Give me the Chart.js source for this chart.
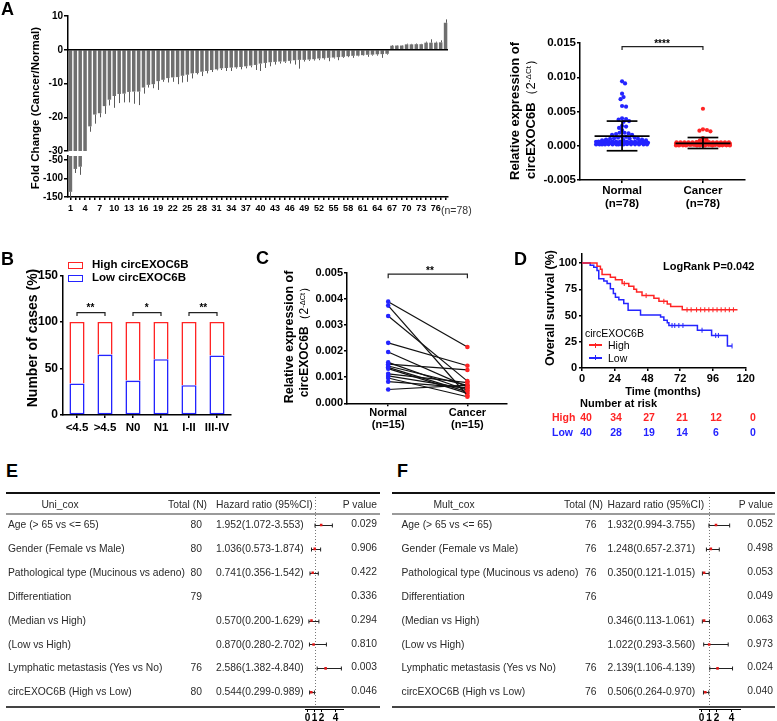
<!DOCTYPE html>
<html><head><meta charset="utf-8">
<script src="https://cdn.jsdelivr.net/npm/chart.js@4.4.0/dist/chart.umd.min.js"></script>
<style>
html,body{margin:0;padding:0;background:#fff}
#root{position:relative;width:777px;height:721px;overflow:hidden;background:#fff;font-family:"Liberation Sans",Arial,Helvetica,sans-serif;color:#111}
.box{position:absolute}
.t{position:absolute;white-space:nowrap;line-height:1}
.ln{position:absolute}
sup{font-size:0.62em;vertical-align:0.45em;line-height:0}
</style></head><body><div id="root"></div>
<script>
// ================= DATA =================
// Panel A (left): fold change per case, 78 cases
const fcLabels = Array.from({length: 78}, (_, i) => String(i + 1));
const foldChange = [-136,-74,-68,-30.5,-22.7,-19.2,-18.8,-16.7,-14.8,-13.7,-13.1,-13.0,-12.5,-12.4,-12.4,-11.2,-10.4,-10.2,-9.3,-8.9,
  -8.4,-8.2,-8.1,-7.7,-7.4,-7.0,-6.9,-6.5,-6.3,-6.0,-5.8,-5.5,-5.4,-5.3,-5.2,-5.1,-4.9,-4.7,-4.5,-4.1,
  -3.9,-3.7,-3.6,-3.5,-3.5,-3.3,-3.1,-3.0,-3.0,-2.9,-2.8,-2.6,-2.5,-2.4,-2.3,-2.2,-2.1,-1.9,-1.8,-1.75,
  -1.6,-1.5,-1.45,-1.35,-1.3,-1.2,
  1.2,1.25,1.25,1.6,1.6,1.65,1.65,2.1,2.1,2.1,2.2,8.0];
const foldErr = [14,11,22,0,1.6,2.7,1.2,2.3,1.7,3.5,2.7,2.6,3.1,3.6,4.0,1.8,0.8,1.2,2.6,0.6,
  1.3,1.3,2.1,2.0,2.1,1.5,0.4,1.3,0.7,0.6,0.3,0.5,0.9,1.0,0.4,0.7,0.6,0.5,1.5,2.2,
  1.5,1.2,0.8,0.6,0.4,0.8,1.3,2.6,0.5,0.4,0.4,0.5,0.4,1.0,0.3,0.9,0.3,0.3,0.6,0.2,
  0.15,0.6,0.3,0.4,1.1,0.25,
  0.2,0.1,0.1,0.2,0.15,0.2,0.1,0.3,1.0,0.3,0.6,1.0];
const fcUpperTicks = [-30, -20, -10, 0, 10];
const fcLowerTicks = [-150, -100, -50];

// Panel A (right): relative expression
const aGroups = [['Normal', '(n=78)'], ['Cancer', '(n=78)']];
const normalExpr = [0.0094,0.0091,0.0076,0.0071,0.0068,0.0058,0.0057,
  0.0040,0.0039,0.0038,0.0036,0.0035,
  0.0029,0.0028,0.0026,0.0023,
  0.0019,0.0019,0.0018,0.0017,0.0016,0.0016,
  0.0013,0.0013,0.0012,0.0012,0.0011,0.0011,0.0010,0.0010,0.0009,0.0009,
  0.00082,0.0008,0.00078,
  0.00062,0.0006,0.00061,0.00059,0.0006,0.00058,0.00061,0.0006,0.00062,0.00059,0.0006,0.00058,
  0.00041,0.0004,0.00042,0.00039,0.0004,0.00038,0.00041,0.0004,0.00042,0.00039,0.0004,0.0004,0.00041,0.00038,0.0004,
  0.00021,0.0002,0.00022,0.00019,0.0002,0.00018,0.00021,0.0002,0.00022,0.00019,0.0002,0.0002,0.00021,0.00018,0.0002,0.00019];
const cancerExpr = [0.0054,0.0024,0.0023,0.0022,0.0021,0.0011,0.0009,0.0008,
  0.0005,0.00052,0.00048,0.0005,0.00051,0.00049,0.0005,0.00052,0.00048,0.0005,0.00051,0.00049,0.0005,0.0005,0.00052,0.00048,
  0.0003,0.00032,0.00028,0.0003,0.00031,0.00029,0.0003,0.00032,0.00028,0.0003,0.00031,0.00029,0.0003,0.0003,0.00032,0.00028,0.0003,0.00031,0.00029,0.0003,0.0003,0.0003,
  0.00015,0.00016,0.00014,0.00015,0.00015,0.00016,0.00014,0.00015,0.00015,0.00016,0.00014,0.00015,0.00015,0.00016,0.00014,0.00015,0.00015,0.00016,0.00014,0.00015,
  0.00005,0.00006,0.00004,0.00005,0.00005,0.00006,0.00004,0.00005,0.00005,0.00006,0.00004,0.00005];
const aMean = [0.0014, 0.00034];
const aSdLow = [-0.00073, -0.0004];
const aSdHigh = [0.0036, 0.0012];
const aTicks = [-0.005, 0, 0.005, 0.010, 0.015];

// Panel B: stacked percentages
const bCats = ['<4.5', '>4.5', 'N0', 'N1', 'I-II', 'III-IV'];
const bLow = [34, 65, 37, 60, 32, 64];
const bHigh = [66, 35, 63, 40, 68, 36];
const bSig = ['**', '*', '**'];
const bTicks = [0, 50, 100, 150];

// Panel C: paired samples
const cGroups = [['Normal', '(n=15)'], ['Cancer', '(n=15)']];
const cNormal = [0.0039,0.00375,0.00335,0.00232,0.00197,0.00157,0.0015,0.00143,0.00138,0.00133,0.00113,0.00105,0.00097,0.00083,0.00053];
const cCancer = [0.00216,0.0003,0.00085,0.00144,0.00063,0.0005,0.00128,0.00069,0.00044,0.00038,0.00079,0.00056,0.00025,0.0006,0.0007];
const cTicks = [0, 0.001, 0.002, 0.003, 0.004, 0.005];

// Panel D: Kaplan-Meier
const kmTicks = [0, 24, 48, 72, 96, 120];
const kmYTicks = [0, 25, 50, 75, 100];
const highT = [0, 11, 13.5, 14.7, 20.8, 24.5, 29.4, 34.3, 38, 40, 44, 52.7, 56.4, 62.5, 65, 73.5, 114];
const highS = [100, 97, 94, 89, 86.5, 84, 80.5, 78, 75, 72.5, 69, 66.5, 63.5, 61, 58.5, 55.5, 55.5];
const lowT = [0, 6, 8.6, 11, 12.3, 16, 18.4, 20.8, 23, 24.5, 27, 30.6, 33.8, 42.9, 57.6, 60, 62.5, 63.7, 84.6, 95, 106.6, 110];
const lowS = [100, 98, 96, 93, 85, 83, 80.5, 75.5, 71, 67.5, 65, 61.5, 55, 50.5, 48.5, 45.5, 43, 40.5, 36, 31, 21, 21];
const highCens = [31, 47, 60, 77, 80, 84, 87, 90, 93, 96, 99, 102, 105, 108, 111];
const lowCens = [66, 68, 71, 74, 88, 98, 100, 110];
const riskHigh = [40, 34, 27, 21, 12, 0];
const riskLow = [40, 28, 19, 14, 6, 0];

// Panels E/F: Cox regression
const coxLabels = ['Age (> 65 vs <= 65)', 'Gender (Female vs Male)', 'Pathological type (Mucinous vs adeno)',
  'Differentiation', '(Median vs High)', '(Low vs High)', 'Lymphatic metastasis (Yes vs No)', 'circEXOC6B (High vs Low)'];
const uniN = ['80', '80', '80', '79', '', '', '76', '80'];
const uniHR = [1.952, 1.036, 0.741, null, 0.570, 0.870, 2.586, 0.544];
const uniLo = [1.072, 0.573, 0.356, null, 0.200, 0.280, 1.382, 0.299];
const uniHi = [3.553, 1.874, 1.542, null, 1.629, 2.702, 4.840, 0.989];
const uniP = ['0.029', '0.906', '0.422', '0.336', '0.294', '0.810', '0.003', '0.046'];
const mulN = ['76', '76', '76', '76', '', '', '76', '76'];
const mulHR = [1.932, 1.248, 0.350, null, 0.346, 1.022, 2.139, 0.506];
const mulLo = [0.994, 0.657, 0.121, null, 0.113, 0.293, 1.106, 0.264];
const mulHi = [3.755, 2.371, 1.015, null, 1.061, 3.560, 4.139, 0.970];
const mulP = ['0.052', '0.498', '0.053', '0.049', '0.063', '0.973', '0.024', '0.040'];
const forestTicks = [0, 1, 2, 4];

// ================= STYLE / HELPERS =================
const RED = '#ff2424', BLUE = '#2424ff';
Chart.defaults.font.family = '"Liberation Sans", Arial, Helvetica, sans-serif';
Chart.defaults.color = '#000';
Chart.defaults.plugins.legend.display = false;
Chart.defaults.plugins.tooltip.enabled = false;
Chart.defaults.animation = false;

const root = document.getElementById('root');

function mk(x, y, w, h, cfg) {
  const d = document.createElement('div');
  d.className = 'box';
  d.style.cssText = `left:${x}px;top:${y}px;width:${w}px;height:${h}px`;
  const c = document.createElement('canvas');
  c.width = w; c.height = h; c.style.width = w + 'px'; c.style.height = h + 'px';
  d.appendChild(c); root.appendChild(d);
  cfg.options = Object.assign({responsive: false, animation: false, devicePixelRatio: 1}, cfg.options || {});
  return new Chart(c, cfg);
}

function sc(type, o) {
  const s = {
    type,
    border: {display: true, color: '#000', width: o.bw || 1.5},
    grid: {display: true, drawOnChartArea: false, drawTicks: true, tickLength: o.tl == null ? 4 : o.tl,
           color: o.gc || '#000', lineWidth: o.bw || 1.5, offset: false},
    ticks: {color: '#000', font: {size: o.fs || 11, weight: 'bold', lineHeight: o.lh || 1.2},
            padding: o.pad == null ? 1 : o.pad, autoSkip: false, maxRotation: 0, minRotation: 0}
  };
  ['min', 'max', 'reverse', 'offset', 'stacked'].forEach(k => { if (o[k] !== undefined) s[k] = o[k]; });
  if (o.cb) s.ticks.callback = o.cb;
  if (o.ticksAt) s.afterBuildTicks = a => { a.ticks = o.ticksAt.map(v => ({value: v})); };
  if (o.w != null) s.afterFit = a => { a.width = o.w; };
  if (o.h != null) s.afterFit = a => { a.height = o.h; };
  return s;
}

function T(html, x, y, o = {}) {
  const d = document.createElement('div');
  d.className = 't';
  d.innerHTML = html;
  const a = o.a || 'l';
  let tr = `translate(${a === 'l' ? '0' : a === 'c' ? '-50%' : '-100%'},-50%)`;
  if (o.rot) tr = 'translate(-50%,-50%) rotate(-90deg)';
  d.style.cssText = `left:${x}px;top:${y}px;font-size:${o.fs || 11}px;font-weight:${o.b ? 'bold' : 'normal'};color:${o.c || '#000'};transform:${tr};`;
  root.appendChild(d);
  return d;
}
function L(x, y, w, h, color) {
  const d = document.createElement('div');
  d.className = 'ln';
  d.style.cssText = `left:${x}px;top:${y}px;width:${w}px;height:${h}px;background:${color}`;
  root.appendChild(d);
}

function line(ctx, x1, y1, x2, y2) { ctx.beginPath(); ctx.moveTo(x1, y1); ctx.lineTo(x2, y2); ctx.stroke(); }

function bracketPlugin(list) {
  return {id: 'br', afterDatasetsDraw(ch) {
    const {ctx, scales: {x, y}} = ch;
    ctx.save(); ctx.strokeStyle = '#222'; ctx.lineWidth = 1.2;
    list.forEach(b => {
      const X0 = x.getPixelForValue(b[0]), X1 = x.getPixelForValue(b[1]);
      const Y = y.getPixelForValue(b[2]), Yt = y.getPixelForValue(b[3]);
      ctx.beginPath(); ctx.moveTo(X0, Yt); ctx.lineTo(X0, Y); ctx.lineTo(X1, Y); ctx.lineTo(X1, Yt); ctx.stroke();
    });
    ctx.restore();
  }};
}

// ================= PANEL A (bars, broken axis) =================
const errPlugin = {id: 'err', afterDatasetsDraw(ch) {
  const ctx = ch.ctx, ys = ch.scales.y, ca = ch.chartArea, meta = ch.getDatasetMeta(0);
  ctx.save(); ctx.beginPath(); ctx.rect(ca.left, ca.top, ca.right - ca.left, ca.bottom - ca.top); ctx.clip();
  ctx.strokeStyle = '#5a5a5a'; ctx.lineWidth = 1;
  meta.data.forEach((el, i) => {
    const v = foldChange[i], e = foldErr[i];
    if (!e) return;
    const end = v + Math.sign(v) * e;
    const xx = Math.round(el.x) + 0.5;
    line(ctx, xx, ys.getPixelForValue(v), xx, ys.getPixelForValue(end));
  });
  ctx.restore();
}};
const zeroPlugin = {id: 'zero', afterDatasetsDraw(ch) {
  const {ctx, chartArea: ca, scales: {y}} = ch;
  const yy = y.getPixelForValue(0);
  ctx.save(); ctx.strokeStyle = '#000'; ctx.lineWidth = 1.5;
  line(ctx, ca.left, yy, ca.right, yy); ctx.restore();
}};
const barDs = () => ({data: foldChange, backgroundColor: '#6f6f6f', borderWidth: 0, barPercentage: 0.72, categoryPercentage: 1, clip: 0});

mk(0, 0, 480, 158, {type: 'bar', data: {labels: fcLabels, datasets: [barDs()]},
  options: {layout: {padding: {left: 0, top: 16, right: 32, bottom: 5}},
    scales: {x: {display: false, offset: true},
             y: sc('linear', {min: -30, max: 10, ticksAt: fcUpperTicks, fs: 10, w: 68, tl: 4, pad: 1})}},
  plugins: [errPlugin, zeroPlugin]});

mk(0, 149, 480, 73, {type: 'bar', data: {labels: fcLabels, datasets: [barDs()]},
  options: {layout: {padding: {left: 0, top: 7, right: 32, bottom: 0}},
    scales: {x: sc('category', {fs: 9, h: 25, tl: 3, pad: 3, offset: true,
                 cb: (v, i) => (i % 3 === 0 ? fcLabels[i] : '')}),
             y: sc('linear', {min: -150, max: -39, ticksAt: fcLowerTicks, fs: 10, w: 68, tl: 4, pad: 1})}},
  plugins: [errPlugin]});

T('A', 1, 9, {fs: 18, b: 1});
T('Fold Change (Cancer/Normal)', 36, 108, {fs: 11.5, b: 1, rot: 1});
T('(n=78)', 441, 210, {fs: 10.5, c: '#333'});

// ================= PANEL A (right, dot plot) =================
function swarm(vals, pxY, pxX, d, maxHalf) {
  const order = vals.map((v, i) => i).sort((a, b) => vals[b] - vals[a]);
  const placed = []; const off = new Array(vals.length).fill(0);
  order.forEach(i => {
    const yv = vals[i] * pxY; let best = 0, bestScore = -1;
    for (let k = 0; k <= maxHalf * 4; k++) {
      const dx = (k % 2 ? 1 : -1) * Math.ceil(k / 2) * 0.5;
      let mind = Infinity;
      placed.forEach(p => { const dd = Math.hypot(p.x - dx, p.y - yv); if (dd < mind) mind = dd; });
      if (mind >= d) { best = dx; bestScore = Infinity; break; }
      if (mind > bestScore) { bestScore = mind; best = dx; }
    }
    placed.push({x: best, y: yv}); off[i] = best / pxX;
  });
  return off;
}
const offN = swarm(normalExpr, 6850, 81, 3.6, 26);
const offC = swarm(cancerExpr, 6850, 81, 3.6, 27);

const msdPlugin = {id: 'msd', afterDatasetsDraw(ch) {
  const {ctx, scales: {x, y}} = ch;
  ctx.save(); ctx.strokeStyle = '#000'; ctx.lineWidth = 1.7;
  [0, 1].forEach(g => {
    const m = y.getPixelForValue(aMean[g]), lo = y.getPixelForValue(aSdLow[g]), hi = y.getPixelForValue(aSdHigh[g]);
    line(ctx, x.getPixelForValue(g - 0.34), m, x.getPixelForValue(g + 0.34), m);
    line(ctx, x.getPixelForValue(g), lo, x.getPixelForValue(g), hi);
    line(ctx, x.getPixelForValue(g - 0.19), lo, x.getPixelForValue(g + 0.19), lo);
    line(ctx, x.getPixelForValue(g - 0.19), hi, x.getPixelForValue(g + 0.19), hi);
  });
  ctx.restore();
}};

mk(470, 0, 300, 232, {type: 'scatter', data: {datasets: [
    {data: normalExpr.map((v, i) => ({x: offN[i], y: v})), pointBackgroundColor: BLUE, pointBorderWidth: 0, pointRadius: 2.1},
    {data: cancerExpr.map((v, i) => ({x: 1 + offC[i], y: v})), pointBackgroundColor: RED, pointBorderWidth: 0, pointRadius: 2.1}]},
  options: {layout: {padding: {left: 0, top: 43, right: 25, bottom: 0}},
    scales: {x: sc('linear', {min: -0.52, max: 1.52, ticksAt: [0, 1], cb: v => aGroups[Math.round(v)], fs: 11.5, h: 52, tl: 3, pad: 2, lh: 1.1}),
             y: sc('linear', {min: -0.005, max: 0.015, ticksAt: aTicks, cb: v => v.toFixed(3), fs: 11.5, w: 110, tl: 3, pad: 1})}},
  plugins: [msdPlugin, bracketPlugin([[0, 1, 0.01446, 0.01397]])]});

T('Relative expression of', 514, 111, {fs: 13, b: 1, rot: 1});
T('circEXOC6B<span style="font-weight:normal">（2<sup>-ΔCt</sup>）</span>', 530, 116, {fs: 13, b: 1, rot: 1});
T('****', 662, 44, {fs: 10, b: 1, a: 'c'});

// ================= PANEL B =================
mk(0, 258, 240, 182, {type: 'bar', data: {labels: bCats, datasets: [
    {data: bLow, backgroundColor: '#fff', borderColor: BLUE, borderWidth: 1.6, borderSkipped: false, barPercentage: 0.54, categoryPercentage: 1},
    {data: bHigh, backgroundColor: '#fff', borderColor: RED, borderWidth: 1.6, borderSkipped: 'start', barPercentage: 0.54, categoryPercentage: 1}]},
  options: {layout: {padding: {left: 0, top: 17.5, right: 9, bottom: 0}},
    scales: {x: sc('category', {fs: 11.5, h: 25, tl: 3, pad: 3, offset: true, stacked: true}),
             y: sc('linear', {min: 0, max: 150, ticksAt: bTicks, fs: 12, w: 63, tl: 3, pad: 2, stacked: true})}},
  plugins: [bracketPlugin([[0, 1, 110, 106.5], [2, 3, 110, 106.5], [4, 5, 110, 106.5]])]});

T('B', 1, 258.5, {fs: 18, b: 1});
const lgB = (top, color) => { const d = document.createElement('div'); d.className = 'ln';
  d.style.cssText = `left:68px;top:${top}px;width:15px;height:7px;border:1.5px solid ${color};box-sizing:border-box`; root.appendChild(d); };
lgB(261.5, RED); lgB(274.5, BLUE);
T('High circEXOC6B', 92, 265, {fs: 11.5, b: 1});
T('Low circEXOC6B', 92, 278, {fs: 11.5, b: 1});
T('Number of cases (%)', 32, 338, {fs: 14, b: 1, rot: 1});
[90.5, 146.7, 203.3].forEach((x, i) => T(bSig[i], x, 308, {fs: 10, b: 1, a: 'c'}));

// ================= PANEL C =================
mk(250, 258, 265, 188, {type: 'scatter', data: {datasets: cNormal.map((v, i) => ({
    data: [{x: 0, y: v}, {x: 1, y: cCancer[i]}], showLine: true, borderColor: '#111', borderWidth: 1.2,
    pointRadius: 2.3, pointBorderWidth: 0, pointBackgroundColor: [BLUE, RED]}))},
  options: {layout: {padding: {left: 0, top: 15, right: 8, bottom: 0}},
    scales: {x: sc('linear', {min: -0.52, max: 1.5, ticksAt: [0, 1], cb: v => cGroups[Math.round(v)], fs: 11, h: 42.7, tl: 3, pad: 1, lh: 1.1}),
             y: sc('linear', {min: 0, max: 0.005, ticksAt: cTicks, cb: v => v.toFixed(3), fs: 11, w: 97, tl: 3, pad: 1})}},
  plugins: [bracketPlugin([[0, 1, 0.00496, 0.0048]])]});

T('C', 256, 257.5, {fs: 18, b: 1});
T('Relative expression of', 289, 337, {fs: 12.5, b: 1, rot: 1});
T('circEXOC6B<span style="font-weight:normal">（2<sup>-ΔCt</sup>）</span>', 304, 339, {fs: 12, b: 1, rot: 1});
T('**', 430, 271, {fs: 10, b: 1, a: 'c'});

// ================= PANEL D =================
function stepAt(Ts, Ss, t) { let s = Ss[0]; for (let i = 0; i < Ts.length; i++) if (Ts[i] <= t) s = Ss[i]; return s; }
mk(530, 245, 247, 140, {type: 'line', data: {datasets: [
    {data: highT.map((t, i) => ({x: t, y: highS[i]})), stepped: true, borderColor: RED, borderWidth: 1.5, pointRadius: 0, fill: false},
    {data: lowT.map((t, i) => ({x: t, y: lowS[i]})), stepped: true, borderColor: BLUE, borderWidth: 1.5, pointRadius: 0, fill: false},
    {data: highCens.map(t => ({x: t, y: stepAt(highT, highS, t)})), showLine: false, pointStyle: 'line', pointRotation: 90, pointRadius: 2.5, pointBorderColor: RED, pointBorderWidth: 1},
    {data: lowCens.map(t => ({x: t, y: stepAt(lowT, lowS, t)})), showLine: false, pointStyle: 'line', pointRotation: 90, pointRadius: 2.5, pointBorderColor: BLUE, pointBorderWidth: 1}]},
  options: {layout: {padding: {left: 0, top: 8, right: 31.3, bottom: 0}},
    scales: {x: sc('linear', {min: 0, max: 120, ticksAt: kmTicks, fs: 11, h: 17, tl: 3, pad: 1}),
             y: sc('linear', {min: 0, max: 109, ticksAt: kmYTicks, fs: 11, w: 52, tl: 3, pad: 2})}}});

T('D', 514, 259, {fs: 18, b: 1});
T('Overall survival (%)', 550, 308, {fs: 12.5, b: 1, rot: 1});
T('LogRank P=0.042', 663, 266, {fs: 11, b: 1});
T('circEXOC6B', 585, 333, {fs: 10.5});
L(589, 344.3, 13, 1.5, RED); L(595, 342.5, 1, 5, RED);
L(589, 357, 13, 1.5, BLUE); L(595, 355.2, 1, 5, BLUE);
T('High', 608, 345, {fs: 10.5});
T('Low', 608, 358, {fs: 10.5});
T('Time (months)', 663, 391, {fs: 11, b: 1, a: 'c'});
T('Number at risk', 580, 403, {fs: 11, b: 1});
const riskX = [586, 616, 649, 682, 716, 753];
T('High', 552, 417, {fs: 10.5, b: 1, c: RED});
T('Low', 552, 432, {fs: 10.5, b: 1, c: BLUE});
riskX.forEach((x, i) => { T(String(riskHigh[i]), x, 417, {fs: 10.5, b: 1, c: RED, a: 'c'}); T(String(riskLow[i]), x, 432, {fs: 10.5, b: 1, c: BLUE, a: 'c'}); });

// ================= PANELS E / F (forest) =================
function forestPlugin(hr, lo, hi) {
  return {id: 'forest', beforeDatasetsDraw(ch) {
    const {ctx, scales: {x, y}, chartArea: ca} = ch;
    ctx.save();
    ctx.strokeStyle = '#777'; ctx.lineWidth = 1; ctx.setLineDash([1, 2]);
    const xd = Math.round(x.getPixelForValue(1)) + 0.5;
    line(ctx, xd, 4, xd, ca.bottom);
    ctx.setLineDash([]); ctx.strokeStyle = '#222';
    hr.forEach((h, i) => {
      if (h == null) return;
      const yy = Math.round(y.getPixelForValue(i)) + 0.5;
      const a = x.getPixelForValue(lo[i]), b = x.getPixelForValue(hi[i]);
      line(ctx, a, yy, b, yy); line(ctx, a, yy - 2, a, yy + 2); line(ctx, b, yy - 2, b, yy + 2);
    });
    ctx.restore();
  }};
}
function forest(left, w, padL, padR, hr, lo, hi) {
  const pts = []; hr.forEach((h, i) => { if (h != null) pts.push({x: h, y: i}); });
  mk(left, 493, w, 228, {type: 'scatter', data: {datasets: [{data: pts, pointStyle: 'rect', pointRadius: 1.8, pointBackgroundColor: '#e01818', pointBorderWidth: 0}]},
    options: {layout: {padding: {left: padL, top: 20, right: padR, bottom: 0}},
      scales: {x: sc('linear', {min: -0.3, max: 5.2, ticksAt: forestTicks, fs: 10, h: 12, tl: 3, pad: 0, bw: 1}),
               y: {type: 'linear', display: false, min: -0.5, max: 7.7, reverse: true}}},
    plugins: [forestPlugin(hr, lo, hi)]});
}
forest(295, 60, 10.4, 11.1, uniHR, uniLo, uniHi);
forest(689, 62, 10.25, 10.5, mulHR, mulLo, mulHi);

function table(p, title, nArr, hr, lo, hi, pArr) {
  L(p.x0, 492, p.x1 - p.x0, 1.5, '#111');
  L(p.x0, 512.5, p.x1 - p.x0, 2, '#9a9a9a');
  L(p.x0, 706, p.x1 - p.x0, 1.5, '#444');
  const fs = 10.3, c = '#2a2a2a', hy = 505;
  T(title, p.title, hy, {fs, c, a: 'c'});
  T('Total (N)', p.totR, hy, {fs, c, a: 'r'});
  T('Hazard ratio (95%CI)', p.hrL, hy, {fs, c});
  T('P value', p.pR, hy, {fs, c, a: 'r'});
  coxLabels.forEach((lab, i) => {
    const yy = 525 + i * 23.9;
    T(lab, p.lab, yy, {fs, c});
    if (nArr[i]) T(nArr[i], p.nR, yy, {fs, c, a: 'r'});
    if (hr[i] != null) T(`${hr[i].toFixed(3)}(${lo[i].toFixed(3)}-${hi[i].toFixed(3)})`, p.hrL, yy, {fs, c});
    T(pArr[i], p.pR, yy - 1, {fs, c, a: 'r'});
  });
}
table({x0: 6, x1: 380, title: 60, totR: 207, hrL: 216, pR: 377, lab: 8, nR: 202}, 'Uni_cox', uniN, uniHR, uniLo, uniHi, uniP);
table({x0: 392, x1: 775, title: 454, totR: 603, hrL: 607.5, pR: 773, lab: 401.5, nR: 596.5}, 'Mult_cox', mulN, mulHR, mulLo, mulHi, mulP);
T('E', 6, 471, {fs: 18, b: 1});
T('F', 397, 471, {fs: 18, b: 1});
</script></body></html>
